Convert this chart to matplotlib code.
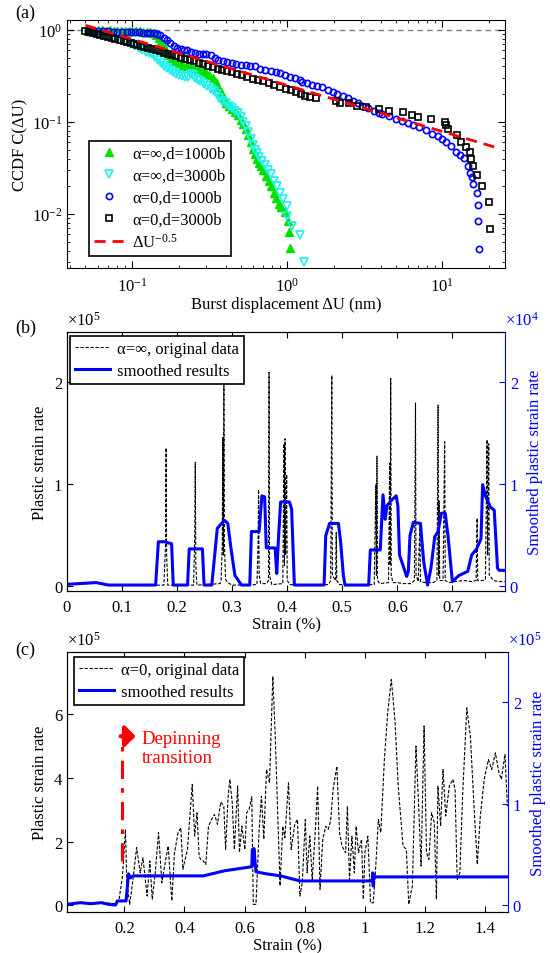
import matplotlib
matplotlib.use('Agg')
import matplotlib.pyplot as plt

plt.rcParams['font.family'] = ['Liberation Serif', 'DejaVu Serif']
plt.rcParams['mathtext.fontset'] = 'custom'
plt.rcParams['mathtext.rm'] = 'Liberation Serif'
plt.rcParams['mathtext.it'] = 'Liberation Serif:italic'
plt.rcParams['font.size'] = 12
plt.rcParams['xtick.direction'] = 'in'
plt.rcParams['ytick.direction'] = 'in'
plt.rcParams['xtick.major.pad'] = 5.5

# ---------------- (a) CCDF of burst displacement ----------------
# alpha=inf, d=1000b
g_x = [0.052, 0.056, 0.060, 0.064, 0.068, 0.072, 0.076, 0.080, 0.085, 0.090, 0.095, 0.100,
       0.106, 0.112, 0.118, 0.124, 0.130, 0.136, 0.142, 0.148, 0.154, 0.160, 0.166, 0.172,
       0.180, 0.190, 0.200, 0.212, 0.225, 0.240, 0.255, 0.270, 0.285, 0.300, 0.315, 0.330,
       0.345, 0.360, 0.375, 0.390, 0.405, 0.420, 0.440, 0.460, 0.480, 0.500, 0.520, 0.540,
       0.560, 0.580, 0.600, 0.620, 0.640, 0.660, 0.680, 0.700, 0.730, 0.760, 0.790, 0.820,
       0.850, 0.880, 0.910, 0.960, 1.010, 1.020, 1.045]
g_y = [0.98, 0.98, 0.99, 0.99, 0.98, 0.99, 0.98, 0.98, 0.97, 0.98, 0.97, 0.97,
       0.96, 0.96, 0.95, 0.95, 0.94, 0.92, 0.88, 0.82, 0.75, 0.66, 0.58, 0.53,
       0.49, 0.46, 0.44, 0.42, 0.41, 0.40, 0.39, 0.38, 0.36, 0.34, 0.32, 0.30,
       0.27, 0.24, 0.21, 0.18, 0.16, 0.148, 0.138, 0.128, 0.118, 0.105, 0.094, 0.083,
       0.072, 0.061, 0.051, 0.045, 0.040, 0.036, 0.033, 0.030, 0.026, 0.023, 0.020, 0.017,
       0.015, 0.0130, 0.0118, 0.0105, 0.0085, 0.0064, 0.0043]
# alpha=inf, d=3000b
c_x = [0.052, 0.056, 0.060, 0.065, 0.070, 0.075, 0.080, 0.086, 0.092, 0.098, 0.104, 0.110,
       0.116, 0.122, 0.128, 0.134, 0.140, 0.147, 0.154, 0.161, 0.168, 0.176, 0.184, 0.192,
       0.200, 0.210, 0.220, 0.230, 0.238, 0.246, 0.255, 0.265, 0.275, 0.290, 0.305, 0.320,
       0.335, 0.350, 0.365, 0.380, 0.400, 0.420, 0.440, 0.460, 0.480, 0.500, 0.520, 0.540,
       0.560, 0.580, 0.600, 0.620, 0.640, 0.660, 0.690, 0.720, 0.750, 0.780, 0.820, 0.860,
       0.900, 0.940, 0.990, 1.000, 1.070, 1.200, 1.280]
c_y = [0.95, 0.93, 0.91, 0.89, 0.86, 0.84, 0.81, 0.78, 0.74, 0.70, 0.67, 0.63,
       0.60, 0.58, 0.56, 0.54, 0.51, 0.47, 0.44, 0.41, 0.385, 0.365, 0.35, 0.335,
       0.325, 0.315, 0.305, 0.31, 0.33, 0.325, 0.30, 0.285, 0.275, 0.26, 0.245, 0.23,
       0.215, 0.20, 0.18, 0.17, 0.160, 0.150, 0.140, 0.132, 0.124, 0.112, 0.100, 0.090,
       0.078, 0.066, 0.056, 0.050, 0.046, 0.042, 0.038, 0.034, 0.030, 0.027, 0.023, 0.020,
       0.017, 0.0145, 0.0123, 0.0096, 0.0075, 0.0059, 0.0030]
# alpha=0, d=1000b
b_x = [0.052, 0.056, 0.060, 0.065, 0.070, 0.075, 0.080, 0.086, 0.092, 0.098, 0.104, 0.110,
       0.117, 0.124, 0.131, 0.138, 0.145, 0.152, 0.160, 0.168, 0.176, 0.185, 0.195, 0.205,
       0.215, 0.225, 0.240, 0.255, 0.270, 0.285, 0.300, 0.320, 0.340, 0.360, 0.385, 0.41,
       0.44, 0.47, 0.50, 0.54, 0.575, 0.62, 0.67, 0.72, 0.78, 0.84, 0.90, 0.97,
       1.04, 1.12, 1.20, 1.25, 1.34, 1.45, 1.55, 1.68, 1.82, 1.96, 2.10, 2.27,
       2.45, 2.65, 2.85, 3.05, 3.30, 3.60, 3.90, 4.10, 4.50, 5.00, 5.50, 6.00,
       6.50, 7.07, 7.8, 8.6, 9.3, 10.0, 10.6, 11.3, 12.2, 13.0, 13.8, 14.7,
       15.0, 15.5, 15.8, 16.6, 16.9, 17.0, 17.2]
b_y = [0.96, 0.96, 0.96, 0.96, 0.96, 0.955, 0.95, 0.95, 0.95, 0.95, 0.94, 0.94,
       0.935, 0.93, 0.93, 0.92, 0.90, 0.87, 0.82, 0.77, 0.72, 0.67, 0.64, 0.62,
       0.61, 0.60, 0.58, 0.565, 0.55, 0.55, 0.55, 0.53, 0.50, 0.475, 0.46, 0.45,
       0.44, 0.43, 0.42, 0.42, 0.41, 0.40, 0.38, 0.37, 0.36, 0.35, 0.34, 0.32,
       0.31, 0.30, 0.285, 0.27, 0.265, 0.25, 0.245, 0.24, 0.225, 0.21, 0.20, 0.19,
       0.18, 0.17, 0.16, 0.15, 0.14, 0.13, 0.125, 0.122, 0.115, 0.108, 0.103, 0.097,
       0.093, 0.088, 0.081, 0.074, 0.070, 0.065, 0.060, 0.055, 0.047, 0.044, 0.041, 0.0335,
       0.028, 0.025, 0.021, 0.0168, 0.0126, 0.0085, 0.0042]
# alpha=0, d=3000b
k_x = [0.050, 0.053, 0.056, 0.059, 0.062, 0.066, 0.070, 0.074, 0.078, 0.083, 0.088, 0.093,
       0.098, 0.103, 0.108, 0.114, 0.120, 0.127, 0.134, 0.142, 0.150, 0.160, 0.170, 0.180,
       0.192, 0.205, 0.220, 0.235, 0.250, 0.268, 0.287, 0.307, 0.330, 0.355, 0.380, 0.410,
       0.440, 0.475, 0.510, 0.550, 0.600, 0.650, 0.700, 0.760, 0.820, 0.900, 0.980, 1.050,
       1.130, 1.220, 1.300, 1.400, 1.520, 2.050, 2.200, 2.500, 2.800, 3.200, 3.870, 4.530,
       5.600, 6.400, 6.970, 8.400, 10.35, 10.6, 10.9, 12.4, 13.1, 14.1, 15.1, 15.2,
       15.8, 16.6, 17.9, 20.0, 20.2]
k_y = [0.96, 0.94, 0.92, 0.90, 0.88, 0.86, 0.84, 0.82, 0.80, 0.78, 0.76, 0.74,
       0.72, 0.70, 0.68, 0.665, 0.65, 0.63, 0.615, 0.60, 0.585, 0.565, 0.55, 0.535,
       0.52, 0.50, 0.485, 0.47, 0.455, 0.44, 0.425, 0.41, 0.395, 0.38, 0.37, 0.355,
       0.345, 0.33, 0.32, 0.31, 0.295, 0.285, 0.275, 0.265, 0.255, 0.24, 0.23, 0.22,
       0.21, 0.20, 0.19, 0.185, 0.18, 0.17, 0.16, 0.16, 0.15, 0.145, 0.138, 0.133,
       0.127, 0.119, 0.114, 0.108, 0.101, 0.093, 0.084, 0.072, 0.061, 0.053, 0.047, 0.040,
       0.0335, 0.0267, 0.0203, 0.0136, 0.0068]
# fitted power law dU^-0.5
fit_x = [0.05, 22.0]
fit_y = [1.12, 0.053]

# ---------------- (b) alpha = inf ----------------
strain_b = [0.000, 0.020, 0.040, 0.055, 0.070, 0.100, 0.150, 0.176, 0.179, 0.180, 0.181, 0.183,
            0.230, 0.232, 0.233, 0.234, 0.236, 0.278, 0.280, 0.282, 0.283, 0.284, 0.285, 0.286,
            0.288, 0.292, 0.300, 0.345, 0.347, 0.348, 0.349, 0.352, 0.362, 0.366, 0.367, 0.368,
            0.372, 0.392, 0.394, 0.395, 0.396, 0.397, 0.399, 0.400, 0.405, 0.475, 0.479, 0.481,
            0.482, 0.488, 0.489, 0.490, 0.495, 0.558, 0.561, 0.562, 0.563, 0.564, 0.568, 0.584,
            0.586, 0.587, 0.588, 0.589, 0.592, 0.600, 0.610, 0.625, 0.631, 0.633, 0.634, 0.638,
            0.641, 0.642, 0.650, 0.665, 0.672, 0.674, 0.675, 0.676, 0.677, 0.683, 0.686, 0.687,
            0.695, 0.705, 0.720, 0.735, 0.743, 0.745, 0.746, 0.755, 0.760, 0.763, 0.764, 0.766,
            0.767, 0.775, 0.785, 0.795]
rate_b = [0.010, 0.015, 0.020, 0.030, 0.012, 0.005, 0.005, 0.005, 0.40, 1.35, 0.30, 0.005,
          0.005, 0.50, 1.21, 0.20, 0.005, 0.02, 0.06, 0.40, 1.45, 0.30, 1.97, 0.40,
          0.06, 0.03, 0.005, 0.01, 0.40, 0.94, 0.10, 0.02, 0.02, 0.05, 2.09, 0.10,
          0.01, 0.02, 1.39, 0.20, 1.44, 0.30, 1.09, 0.05, 0.01, 0.01, 0.05, 2.06,
          0.10, 0.05, 0.52, 0.05, 0.01, 0.01, 0.99, 0.10, 1.27, 0.05, 0.02, 0.03,
          1.20, 0.20, 2.03, 0.10, 0.03, 0.03, 0.02, 0.02, 0.05, 1.79, 0.10, 0.04,
          0.62, 0.04, 0.03, 0.03, 0.05, 1.77, 0.10, 0.83, 0.05, 0.05, 1.41, 0.05,
          0.03, 0.04, 0.05, 0.04, 0.05, 0.66, 0.05, 0.05, 0.06, 1.43, 0.30, 1.39,
          0.10, 0.05, 0.04, 0.04]  # x1e5
sm_strain_b = [0.000, 0.053, 0.075, 0.161, 0.166, 0.177, 0.190, 0.193, 0.219, 0.222, 0.246, 0.249,
               0.263, 0.273, 0.279, 0.286, 0.292, 0.298, 0.305, 0.317, 0.332, 0.335, 0.349, 0.354,
               0.359, 0.362, 0.378, 0.381, 0.384, 0.388, 0.404, 0.408, 0.413, 0.467, 0.470, 0.477,
               0.493, 0.497, 0.502, 0.505, 0.548, 0.551, 0.569, 0.574, 0.578, 0.581, 0.588, 0.598,
               0.601, 0.604, 0.617, 0.620, 0.623, 0.629, 0.642, 0.648, 0.655, 0.661, 0.668, 0.674,
               0.680, 0.687, 0.692, 0.700, 0.712, 0.728, 0.735, 0.744, 0.752, 0.755, 0.760, 0.769,
               0.776, 0.782, 0.785, 0.7956]
sm_rate_b = [0.013, 0.030, 0.006, 0.006, 0.43, 0.43, 0.41, 0.006, 0.006, 0.36, 0.36, 0.006,
             0.006, 0.56, 0.60, 0.64, 0.61, 0.36, 0.10, 0.006, 0.006, 0.53, 0.53, 0.88,
             0.87, 0.37, 0.37, 0.12, 0.45, 0.82, 0.82, 0.75, 0.006, 0.006, 0.49, 0.61,
             0.61, 0.43, 0.10, 0.006, 0.006, 0.35, 0.35, 0.89, 0.65, 0.78, 0.83, 0.88,
             0.78, 0.30, 0.09, 0.14, 0.49, 0.62, 0.61, 0.23, 0.006, 0.17, 0.48, 0.53,
             0.71, 0.71, 0.49, 0.04, 0.10, 0.14, 0.30, 0.36, 0.46, 0.99, 0.88, 0.77,
             0.74, 0.17, 0.15, 0.15]  # x1e4

# ---------------- (c) alpha = 0 ----------------
strain_c = [0.010, 0.050, 0.090, 0.130, 0.170, 0.182, 0.194, 0.204, 0.208, 0.218, 0.229, 0.241,
            0.253, 0.262, 0.270, 0.276, 0.285, 0.293, 0.303, 0.314, 0.325, 0.334, 0.346, 0.358,
            0.367, 0.379, 0.388, 0.395, 0.410, 0.426, 0.434, 0.442, 0.449, 0.454, 0.463, 0.471,
            0.480, 0.490, 0.500, 0.510, 0.521, 0.531, 0.537, 0.545, 0.551, 0.559, 0.566, 0.577,
            0.583, 0.591, 0.601, 0.607, 0.615, 0.624, 0.629, 0.638, 0.648, 0.656, 0.664, 0.673,
            0.683, 0.694, 0.702, 0.711, 0.718, 0.727, 0.734, 0.746, 0.755, 0.767, 0.776, 0.784,
            0.792, 0.802, 0.808, 0.817, 0.825, 0.835, 0.843, 0.851, 0.860, 0.870, 0.878, 0.886,
            0.895, 0.907, 0.916, 0.924, 0.936, 0.942, 0.949, 0.957, 0.965, 0.971, 0.979, 0.989,
            0.995, 1.000, 1.010, 1.019, 1.028, 1.035, 1.045, 1.053, 1.065, 1.076, 1.088, 1.100,
            1.111, 1.127, 1.138, 1.146, 1.158, 1.170, 1.179, 1.187, 1.197, 1.205, 1.213, 1.222,
            1.231, 1.238, 1.243, 1.252, 1.260, 1.269, 1.281, 1.293, 1.300, 1.307, 1.316, 1.325,
            1.339, 1.351, 1.363, 1.374, 1.384, 1.397, 1.411, 1.422, 1.434, 1.446, 1.454, 1.466,
            1.474]
rate_c = [0.05, 0.08, 0.06, 0.09, 0.04, 0.14, 0.92, 2.38, 0.81, 0.03, 0.81, 1.81,
          1.02, 1.49, 0.81, 0.29, 1.39, 0.19, 1.02, 2.28, 0.71, 1.23, 1.86, 0.14,
          1.65, 2.28, 2.43, 1.13, 1.75, 3.79, 2.17, 2.90, 1.54, 1.44, 1.39, 1.28,
          2.48, 2.69, 2.85, 2.54, 3.24, 3.11, 1.75, 3.37, 3.95, 3.22, 1.75, 3.74,
          1.65, 2.48, 1.75, 2.90, 3.01, 3.40, 0.03, 0.03, 2.28, 3.42, 2.07, 4.26,
          3.84, 7.18, 5.30, 2.69, 0.61, 2.48, 2.12, 3.84, 1.75, 2.54, 2.69, 0.29,
          0.71, 2.69, 1.02, 2.17, 0.81, 2.28, 3.74, 0.50, 2.07, 2.48, 2.38, 2.64,
          3.68, 4.36, 2.28, 1.86, 1.65, 3.11, 0.81, 2.17, 1.02, 2.48, 1.65, 2.07,
          0.19, 1.65, 2.17, 0.08, 0.08, 1.02, 2.69, 2.28, 4.57, 6.03, 7.08, 5.82,
          3.74, 1.86, 1.75, 0.03, 0.61, 4.99, 3.11, 1.23, 5.62, 1.65, 1.44, 2.90,
          2.59, 0.19, 3.74, 2.48, 4.26, 2.80, 3.74, 3.95, 3.63, 0.81, 1.02, 3.42,
          6.19, 5.30, 3.11, 1.28, 2.80, 3.95, 4.57, 4.26, 4.78, 4.15, 3.95, 4.73,
          3.11]  # x1e5
sm_strain_c = [0.010, 0.054, 0.089, 0.124, 0.147, 0.171, 0.177, 0.206, 0.214, 0.220, 0.229, 0.311,
               0.463, 0.533, 0.624, 0.626, 0.629, 0.631, 0.636, 0.638, 0.673, 0.720, 0.784, 1.024,
               1.026, 1.028, 1.030, 1.033, 1.106, 1.474]
sm_rate_c = [0.010, 0.026, 0.016, 0.026, 0.010, 0.003, 0.043, 0.043, 0.31, 0.27, 0.29, 0.29,
             0.29, 0.34, 0.38, 0.55, 0.40, 0.56, 0.39, 0.33, 0.31, 0.29, 0.24, 0.24,
             0.32, 0.19, 0.30, 0.28, 0.28, 0.28]  # x1e5
depin_x = [0.191, 0.191]
depin_y = [1.40, 5.30]  # x1e5

fig = plt.figure(figsize=(5.5, 9.54), dpi=100)

# ======== panel (a) ========
ax = fig.add_axes([0.1218, 0.718, 0.7964, 0.260])
ax.axhline(1.0, color='#808080', ls='--', lw=1.0, dashes=(4, 3), zorder=1)
ax.plot(g_x, g_y, '^', color='#00e000', mfc='#00e000', mec='#00e000', ms=6, label=r'α=∞,d=1000b')
ax.plot(c_x, c_y, 'v', color='#20f0f0', mfc='none', mec='#20f0f0', mew=1.2, ms=6, label=r'α=∞,d=3000b')
ax.plot(b_x, b_y, 'o', color='blue', mfc='none', mec='blue', mew=1.2, ms=4.5, label=r'α=0,d=1000b')
ax.plot(k_x, k_y, 's', color='black', mfc='none', mec='black', mew=1.2, ms=4.5, label=r'α=0,d=3000b')
ax.plot(fit_x, fit_y, '--', color='red', lw=2.0, dashes=(4, 2.5), label=r'ΔU$^{-0.5}$')
ax.set_xscale('log')
ax.set_yscale('log')
ax.set_xlim(0.038, 25.3)
ax.set_ylim(0.00259, 1.28)
ax.tick_params(which='both', top=True, right=True)
ax.tick_params(which='major', length=5)
ax.tick_params(which='minor', length=2.5)
ax.tick_params(axis='x', which='major', pad=6.5)
ax.set_xlabel('Burst displacement ΔU (nm)', labelpad=1)
ax.set_ylabel('CCDF C(ΔU)', labelpad=2)
leg = ax.legend(loc='lower left', bbox_to_anchor=(0.05, 0.048), fancybox=False,
                edgecolor='black', framealpha=1, handlelength=1.8, handletextpad=0.5,
                labelspacing=0.35, borderpad=0.3, borderaxespad=0)
leg.get_frame().set_linewidth(1.2)
fig.text(0.028, 0.986, '(a)', fontsize=13, va='center')


# ======== panels (b) and (c): two y axes ========
def dual(rect, xlim, ylim1, ylim2, xticks, yticks1, yticks2, exp1, exp2):
    a1 = fig.add_axes(rect)
    a2 = a1.twinx()
    a1.set_xlim(*xlim)
    a1.set_ylim(*ylim1)
    a2.set_ylim(*ylim2)
    a1.set_xticks(xticks)
    a1.set_yticks(yticks1)
    a2.set_yticks(yticks2)
    a1.tick_params(top=True, length=4)
    a1.spines['right'].set_visible(False)
    a2.spines['right'].set_color('blue')
    a2.tick_params(axis='y', colors='blue', length=4)
    a1.set_xlabel('Strain (%)', labelpad=1)
    a1.set_ylabel('Plastic strain rate', labelpad=4)
    a2.set_ylabel('Smoothed plastic strain rate', color='blue', rotation=90, labelpad=6)
    a1.text(0.0, 1.012, '×10$^{%d}$' % exp1, transform=a1.transAxes, ha='left', va='bottom')
    a2.text(1.0, 1.012, '×10$^{%d}$' % exp2, transform=a2.transAxes, ha='left', va='bottom',
            color='blue')
    return a1, a2


axb, axb2 = dual([0.1218, 0.3795, 0.7964, 0.2715], (0, 0.7956), (-0.052, 2.486),
                 (-0.052, 2.486), [0, 0.1, 0.2, 0.3, 0.4, 0.5, 0.6, 0.7], [0, 1, 2], [0, 1, 2], 5, 4)
axb.set_xticklabels(['0', '0.1', '0.2', '0.3', '0.4', '0.5', '0.6', '0.7'])
lb1, = axb.plot(strain_b, rate_b, '--', color='black', lw=0.8, dashes=(3, 1.5))
lb2, = axb2.plot(sm_strain_b, sm_rate_b, '-', color='blue', lw=2.2)
leg = axb2.legend([lb1, lb2], ['α=∞, original data', 'smoothed results'], loc='upper left',
                  bbox_to_anchor=(0.007, 0.985), fancybox=False, edgecolor='black', framealpha=1,
                  handlelength=2.1, handletextpad=0.4, labelspacing=0.35, borderpad=0.3,
                  borderaxespad=0)
leg.get_frame().set_linewidth(1.2)
fig.text(0.028, 0.656, '(b)', fontsize=13, va='center')

axc, axc2 = dual([0.1218, 0.043, 0.8018, 0.2725], (0.0095, 1.476), (-0.209, 7.94),
                 (-0.0656, 2.495), [0.2, 0.4, 0.6, 0.8, 1.0, 1.2, 1.4], [0, 2, 4, 6], [0, 1, 2], 5, 5)
axc.set_xticklabels(['0.2', '0.4', '0.6', '0.8', '1', '1.2', '1.4'])
lc1, = axc.plot(strain_c, rate_c, '--', color='black', lw=0.8, dashes=(3, 1.5))
lc2, = axc2.plot(sm_strain_c, sm_rate_c, '-', color='blue', lw=2.2)
axc.plot(depin_x, depin_y, color='red', lw=2.2, dashes=(6, 3, 1.5, 3))
axc.annotate('', xy=(0.238, depin_y[1]), xytext=(depin_x[0] - 0.003, depin_y[1]),
             arrowprops=dict(arrowstyle='-|>,head_width=0.45,head_length=0.45', color='red',
                             lw=3, mutation_scale=14, shrinkA=0, shrinkB=0))
axc.text(0.258, 4.92, 'Depinning\ntransition', color='red', fontsize=13.5, va='center',
         ha='left', linespacing=1.15)
leg = axc2.legend([lc1, lc2], ['α=0, original data', 'smoothed results'], loc='upper left',
                  bbox_to_anchor=(0.016, 0.98), fancybox=False, edgecolor='black', framealpha=1,
                  handlelength=2.1, handletextpad=0.4, labelspacing=0.35, borderpad=0.3,
                  borderaxespad=0)
leg.get_frame().set_linewidth(1.2)
fig.text(0.028, 0.318, '(c)', fontsize=13, va='center')

fig.savefig('out.png', dpi=100)
